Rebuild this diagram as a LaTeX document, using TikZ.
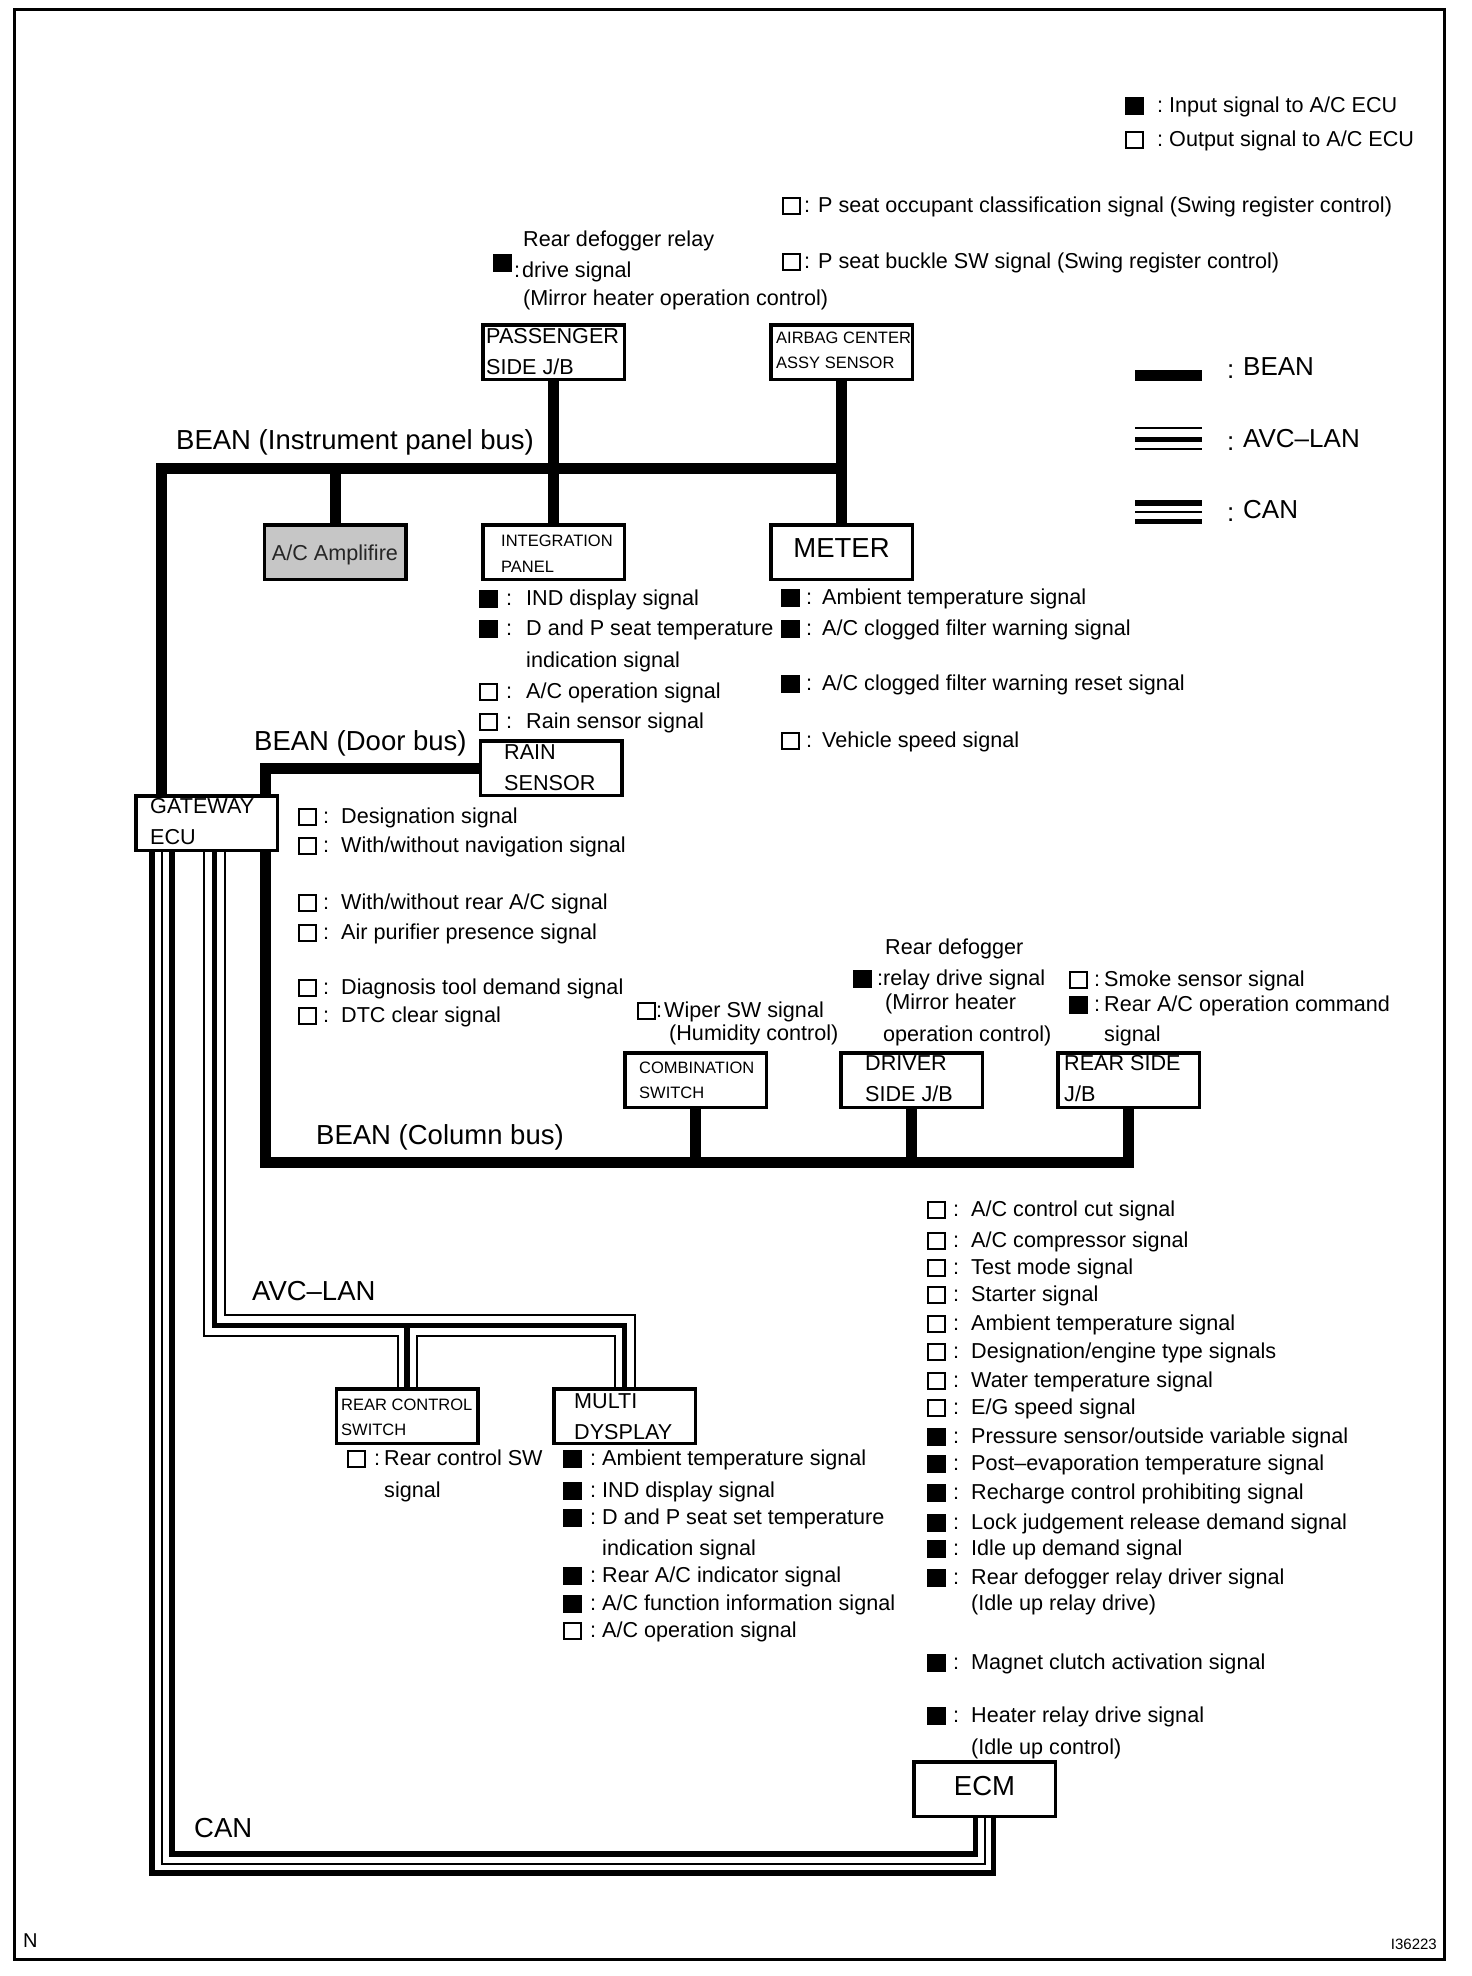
\documentclass[tikz,border=0pt]{standalone}
\usepackage{fontspec}
\setmainfont{Liberation Sans}
\usetikzlibrary{calc}
\newcommand\fsig{\fontsize{21.6}{26}\selectfont}
\newcommand\fbig{\fontsize{27.5}{32}\selectfont}
\newcommand\fsml{\fontsize{16.5}{20}\selectfont}
\newcommand\fleg{\fontsize{26}{30}\selectfont}
\tikzset{
  box/.style={draw, line width=3.5pt, minimum width=141.5pt, minimum height=54.5pt, inner sep=0pt},
  txt/.style={font=\fsig, inner sep=0pt, anchor=base west},
  big/.style={font=\fbig, inner sep=0pt, anchor=base west},
  sml/.style={font=\fsml, inner sep=0pt, anchor=base west},
  leg/.style={font=\fleg, inner sep=0pt, anchor=base west},
  sq/.style={draw, line width=1.6pt, minimum width=16.5pt, minimum height=15.5pt, inner sep=0pt, outer sep=0pt},
  bean/.style={line width=11pt, line join=miter},
  thk/.style={line width=5.5pt, line join=miter},
  thn/.style={line width=2pt, line join=miter},
  frame/.style={line width=3pt},
}
% name, square x, colon x, text x, y centre, fill, text
\newcommand{\sgl}[7]{%
  \node[sq, fill=#6] (#1s) at (#2+8.5, #5+1) {};
  \node[txt] (#1c) at (#3, #5+7.5) {:};
  \node[txt] (#1) at (#4, #5+7.5) {#7};
}
\begin{document}
\begin{tikzpicture}[x=1pt,y=-1pt]
\useasboundingbox (0,0) rectangle (1472,1976);
\draw[frame] (14,9) rectangle (1444,1959);

% ---------- boxes ----------
\node[box] (pass) at (553.5,352) {};
\node[box] (airbag) at (841.5,352) {};
\node[box, fill=gray!45] (amp) at (335,552) {};
\node[box] (integ) at (553.5,552) {};
\node[box] (meter) at (841.5,552) {};
\node[box] (rain) at (551,768) {};
\node[box] (gw) at (206.5,823) {};
\node[box] (comb) at (695.5,1080) {};
\node[box] (driver) at (911.5,1080) {};
\node[box] (rearside) at (1128.5,1080) {};
\node[box] (rearctl) at (407,1416) {};
\node[box] (multi) at (624.5,1416) {};
\node[box] (ecm) at (984.5,1789) {};

% ---------- box labels ----------
\node[txt] (passl1) at (486,343) {PASSENGER};
\node[txt] (passl2) at (486,374) {SIDE J/B};
\node[sml] (abl1) at (776,343) {AIRBAG CENTER};
\node[sml] (abl2) at (776,368) {ASSY SENSOR};
\node[sml] (inl1) at (501,546) {INTEGRATION};
\node[sml] (inl2) at (501,572) {PANEL};
\node[font=\fbig, inner sep=0pt, anchor=base] (mel) at (841.5,557) {METER};
\node[font=\fsig, inner sep=0pt, anchor=base, text=black!85] (ampl) at (335,560) {A/C Amplifire};
\node[txt] (rnl1) at (504,759) {RAIN};
\node[txt] (rnl2) at (504,790) {SENSOR};
\node[txt] (gwl1) at (150,813) {GATEWAY};
\node[txt] (gwl2) at (150,844) {ECU};
\node[sml] (cbl1) at (639,1073) {COMBINATION};
\node[sml] (cbl2) at (639,1098) {SWITCH};
\node[txt] (drl1) at (865,1070) {DRIVER};
\node[txt] (drl2) at (865,1101) {SIDE J/B};
\node[txt] (rsl1) at (1064,1070) {REAR SIDE};
\node[txt] (rsl2) at (1064,1101) {J/B};
\node[sml] (rcl1) at (341,1410) {REAR CONTROL};
\node[sml] (rcl2) at (341,1435) {SWITCH};
\node[txt] (mul1) at (574,1408) {MULTI};
\node[txt] (mul2) at (574,1439) {DYSPLAY};
\node[font=\fbig, inner sep=0pt, anchor=base] (ecml) at (984.5,1795) {ECM};

% ---------- BEAN buses ----------
\coordinate (ipend) at (841.5,468);
\draw[bean] ([xshift=-45.5pt]gw.north) |- (ipend);
\draw[bean] (airbag.south) -- (meter.north);
\draw[bean] (pass.south) -- (integ.north);
\draw[bean] (amp.north) -- (amp.north |- ipend);
\draw[bean] ([xshift=58.5pt]gw.north) |- (rain.west);
\coordinate (colend) at (1128.5,1162);
\draw[bean] ([xshift=58.5pt]gw.south) |- (colend) -- (rearside.south);
\draw[bean] (comb.south) -- (comb.south |- colend);
\draw[bean] (driver.south) -- (driver.south |- colend);

% ---------- AVC-LAN ----------
\draw[thn] ([xshift=-2.5pt]gw.south) -- ++(0,484) -| ([xshift=-9.5pt]rearctl.north);
\draw[thk] ([xshift=8pt]gw.south) -- ++(0,473.5) -| (multi.north);
\draw[thn] ([xshift=18.5pt]gw.south) -- ++(0,463) -| ([xshift=10pt]multi.north);
\draw[thk] (rearctl.north) -- ++(0,-61.5);
\draw[thn] ([xshift=10pt]rearctl.north) -- ++(0,-51) -| ([xshift=-10pt]multi.north);

% ---------- CAN ----------
\draw[thk] ([xshift=-54.5pt]gw.south) -- ++(0,1021) -| ([xshift=9pt]ecm.south);
\draw[thn] ([xshift=-44.5pt]gw.south) -- ++(0,1012) -| (ecm.south);
\draw[thk] ([xshift=-34.5pt]gw.south) -- ++(0,1002) -| ([xshift=-9pt]ecm.south);

% ---------- bus labels ----------
\node[big] (lip) at (176,449) {BEAN (Instrument panel bus)};
\node[big] (ldoor) at (254,750) {BEAN (Door bus)};
\node[big] (lcol) at (316,1144) {BEAN (Column bus)};
\node[big] (lavc) at (252,1300) {AVC–LAN};
\node[big] (lcan) at (194,1837) {CAN};

% ---------- legends ----------
\sgl{lin}{1126}{1157}{1169}{105}{black}{Input signal to A/C ECU}
\sgl{lout}{1126}{1157}{1169}{139}{white}{Output signal to A/C ECU}

\draw[bean] (1135,375.5) -- (1202,375.5);
\node[leg] (lgbc) at (1227,378) {:};
\node[leg] (lgb) at (1243,375) {BEAN};
\draw[thn] (1135,428) -- (1202,428);
\draw[thk] (1135,439.5) -- (1202,439.5);
\draw[thn] (1135,448.5) -- (1202,448.5);
\node[leg] (lgac) at (1227,450) {:};
\node[leg] (lga) at (1243,447) {AVC–LAN};
\draw[thk] (1135,503) -- (1202,503);
\draw[thn] (1135,512) -- (1202,512);
\draw[thk] (1135,521.5) -- (1202,521.5);
\node[leg] (lgcc) at (1227,521) {:};
\node[leg] (lgc) at (1243,518) {CAN};

% ---------- signals ----------
\sgl{pocc}{783}{804}{818}{205}{white}{P seat occupant classification signal (Swing register control)}
\sgl{pbuck}{783}{804}{818}{261}{white}{P seat buckle SW signal (Swing register control)}

\node[sq, fill=black, minimum width=17.5pt] (rdps) at (502.5,263) {};
\node[txt] (rdp1) at (523,246) {Rear defogger relay};
\node[txt] (rdpc) at (514,277) {:};
\node[txt] (rdp2) at (522,277) {drive signal};
\node[txt] (rdp3) at (523,305) {(Mirror heater operation control)};

\sgl{i1}{480}{506}{526}{598}{black}{IND display signal}
\sgl{i2}{480}{506}{526}{628}{black}{D and P seat temperature}
\node[txt] (i2b) at (526,667.5) {indication signal};
\sgl{i3}{480}{506}{526}{691}{white}{A/C operation signal}
\sgl{i4}{480}{506}{526}{721}{white}{Rain sensor signal}

\sgl{m1}{782}{806}{822}{597}{black}{Ambient temperature signal}
\sgl{m2}{782}{806}{822}{628}{black}{A/C clogged filter warning signal}
\sgl{m3}{782}{806}{822}{683}{black}{A/C clogged filter warning reset signal}
\sgl{m4}{782}{806}{822}{740}{white}{Vehicle speed signal}

\sgl{g1}{299}{323}{341}{816}{white}{Designation signal}
\sgl{g2}{299}{323}{341}{845}{white}{With/without navigation signal}
\sgl{g3}{299}{323}{341}{902}{white}{With/without rear A/C signal}
\sgl{g4}{299}{323}{341}{932}{white}{Air purifier presence signal}
\sgl{g5}{299}{323}{341}{987}{white}{Diagnosis tool demand signal}
\sgl{g6}{299}{323}{341}{1015}{white}{DTC clear signal}

\sgl{w1}{638}{656}{664}{1010}{white}{Wiper SW signal}
\node[txt] (w1b) at (669,1040.5) {(Humidity control)};

\node[txt] (d0) at (885,954.5) {Rear defogger};
\sgl{d1}{854}{877}{883}{978}{black}{relay drive signal}
\node[txt] (d2) at (885,1009.5) {(Mirror heater};
\node[txt] (d3) at (883,1041.5) {operation control)};

\sgl{r1}{1070}{1094}{1104}{979}{white}{Smoke sensor signal}
\sgl{r2}{1070}{1094}{1104}{1004}{black}{Rear A/C operation command}
\node[txt] (r2b) at (1104,1041.5) {signal};

\sgl{rc}{348}{374}{384}{1458}{white}{Rear control SW}
\node[txt] (rcb) at (384,1497.5) {signal};

\sgl{mu1}{564}{590}{602}{1458}{black}{Ambient temperature signal}
\sgl{mu2}{564}{590}{602}{1490}{black}{IND display signal}
\sgl{mu3}{564}{590}{602}{1517}{black}{D and P seat set temperature}
\node[txt] (mu3b) at (602,1555.5) {indication signal};
\sgl{mu4}{564}{590}{602}{1575}{black}{Rear A/C indicator signal}
\sgl{mu5}{564}{590}{602}{1603}{black}{A/C function information signal}
\sgl{mu6}{564}{590}{602}{1630}{white}{A/C operation signal}

\sgl{e1}{928}{953}{971}{1209}{white}{A/C control cut signal}
\sgl{e2}{928}{953}{971}{1240}{white}{A/C compressor signal}
\sgl{e3}{928}{953}{971}{1267}{white}{Test mode signal}
\sgl{e4}{928}{953}{971}{1294}{white}{Starter signal}
\sgl{e5}{928}{953}{971}{1323}{white}{Ambient temperature signal}
\sgl{e6}{928}{953}{971}{1351}{white}{Designation/engine type signals}
\sgl{e7}{928}{953}{971}{1380}{white}{Water temperature signal}
\sgl{e8}{928}{953}{971}{1407}{white}{E/G speed signal}
\sgl{e9}{928}{953}{971}{1436}{black}{Pressure sensor/outside variable signal}
\sgl{e10}{928}{953}{971}{1463}{black}{Post–evaporation temperature signal}
\sgl{e11}{928}{953}{971}{1492}{black}{Recharge control prohibiting signal}
\sgl{e12}{928}{953}{971}{1522}{black}{Lock judgement release demand signal}
\sgl{e13}{928}{953}{971}{1548}{black}{Idle up demand signal}
\sgl{e14}{928}{953}{971}{1577}{black}{Rear defogger relay driver signal}
\node[txt] (e14b) at (971,1610.5) {(Idle up relay drive)};
\sgl{e15}{928}{953}{971}{1662}{black}{Magnet clutch activation signal}
\sgl{e16}{928}{953}{971}{1715}{black}{Heater relay drive signal}
\node[txt] (e16b) at (971,1754.5) {(Idle up control)};

% ---------- footer ----------
\node[font=\fontsize{20}{24}\selectfont, inner sep=0pt, anchor=base west] (nlbl) at (23,1947) {N};
\node[font=\fontsize{15}{18}\selectfont, inner sep=0pt, anchor=base east] (idl) at (1437,1949) {I36223};
\end{tikzpicture}
\end{document}
